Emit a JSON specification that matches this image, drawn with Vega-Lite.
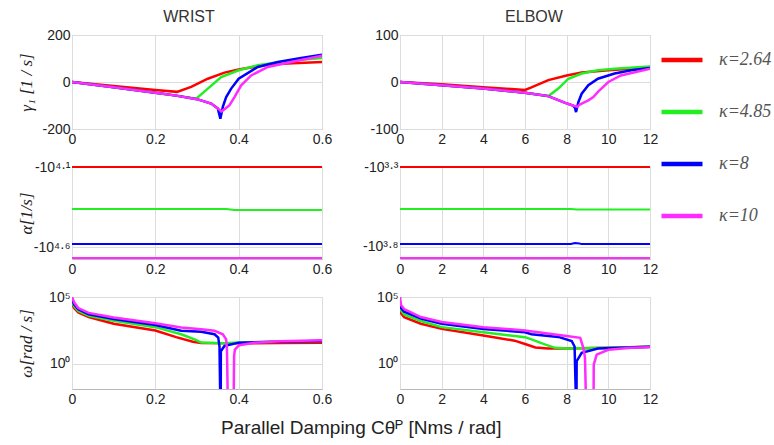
{
  "$schema": "https://vega.github.io/schema/vega-lite/v6.json",
  "padding": {"left": 16, "top": 8, "right": 5, "bottom": 5},
  "background": "white",
  "config": {
    "font": "Liberation Sans",
    "view": {"stroke": "#b8b8b8", "strokeWidth": 1},
    "axis": {"labelFont": "Liberation Sans", "labelFontSize": 14, "labelColor": "#222", "grid": true, "gridColor": "#dcdcdc", "domain": false, "ticks": false, "labelPadding": 2, "labelFlush": false, "titleFont": "Liberation Serif", "titleFontStyle": "italic", "titleFontWeight": "normal", "titleFontSize": 17, "titleColor": "#222"},
    "axisX": {"labelPadding": 3},
    "axisY": {"titleX": -46, "titleBaseline": "middle"},
    "title": {"font": "Liberation Sans", "fontSize": 16, "fontWeight": "normal", "color": "#333", "offset": 3},
    "legend": {"orient": "none", "legendX": 587, "legendY": 2, "symbolType": "stroke", "symbolStrokeWidth": 4.5, "symbolSize": 1681, "labelFont": "Liberation Serif", "labelFontStyle": "italic", "labelFontSize": 18, "labelColor": "#555", "rowPadding": 20, "labelOffset": 14, "padding": 0, "title": null}
  },
  "title": {"text": "Parallel Damping Cθᴾ [Nms / rad]", "orient": "bottom", "anchor": "middle", "fontSize": 19, "color": "#222", "offset": 12, "dx": -33},
  "datasets": {
    "gw": [
      {"k":"κ=2.64","x":0,"y":0},{"k":"κ=2.64","x":0.1,"y":-17},{"k":"κ=2.64","x":0.2,"y":-34},{"k":"κ=2.64","x":0.252,"y":-42},{"k":"κ=2.64","x":0.286,"y":-21},{"k":"κ=2.64","x":0.326,"y":14},{"k":"κ=2.64","x":0.366,"y":40},{"k":"κ=2.64","x":0.4,"y":53},{"k":"κ=2.64","x":0.47,"y":74},{"k":"κ=2.64","x":0.53,"y":80},{"k":"κ=2.64","x":0.6,"y":85},
      {"k":"κ=4.85","x":0,"y":0},{"k":"κ=4.85","x":0.1,"y":-22},{"k":"κ=4.85","x":0.2,"y":-46},{"k":"κ=4.85","x":0.25,"y":-58},{"k":"κ=4.85","x":0.298,"y":-71},{"k":"κ=4.85","x":0.326,"y":-28},{"k":"κ=4.85","x":0.358,"y":21},{"k":"κ=4.85","x":0.4,"y":50},{"k":"κ=4.85","x":0.446,"y":71},{"k":"κ=4.85","x":0.526,"y":92},{"k":"κ=4.85","x":0.6,"y":102},
      {"k":"κ=8","x":0,"y":0},{"k":"κ=8","x":0.1,"y":-22},{"k":"κ=8","x":0.2,"y":-46},{"k":"κ=8","x":0.25,"y":-58},{"k":"κ=8","x":0.3,"y":-73},{"k":"κ=8","x":0.334,"y":-92},{"k":"κ=8","x":0.35,"y":-113},{"k":"κ=8","x":0.356,"y":-156},{"k":"κ=8","x":0.362,"y":-106},{"k":"κ=8","x":0.37,"y":-64},{"k":"κ=8","x":0.382,"y":-28},{"k":"κ=8","x":0.4,"y":14},{"k":"κ=8","x":0.446,"y":64},{"k":"κ=8","x":0.494,"y":85},{"k":"κ=8","x":0.55,"y":102},{"k":"κ=8","x":0.6,"y":116},
      {"k":"κ=10","x":0,"y":0},{"k":"κ=10","x":0.1,"y":-22},{"k":"κ=10","x":0.2,"y":-46},{"k":"κ=10","x":0.25,"y":-58},{"k":"κ=10","x":0.3,"y":-73},{"k":"κ=10","x":0.334,"y":-92},{"k":"κ=10","x":0.35,"y":-113},{"k":"κ=10","x":0.359,"y":-125},{"k":"κ=10","x":0.366,"y":-116},{"k":"κ=10","x":0.378,"y":-99},{"k":"κ=10","x":0.39,"y":-64},{"k":"κ=10","x":0.406,"y":-14},{"k":"κ=10","x":0.43,"y":28},{"k":"κ=10","x":0.47,"y":64},{"k":"κ=10","x":0.526,"y":85},{"k":"κ=10","x":0.6,"y":112}
    ],
    "ge": [
      {"k":"κ=2.64","x":0,"y":0},{"k":"κ=2.64","x":2,"y":-5},{"k":"κ=2.64","x":4,"y":-11},{"k":"κ=2.64","x":6,"y":-17},{"k":"κ=2.64","x":6.28,"y":-12},{"k":"κ=2.64","x":7.12,"y":4},{"k":"κ=2.64","x":8,"y":14},{"k":"κ=2.64","x":8.72,"y":20},{"k":"κ=2.64","x":10,"y":25},{"k":"κ=2.64","x":12,"y":31},
      {"k":"κ=4.85","x":0,"y":0},{"k":"κ=4.85","x":2,"y":-7},{"k":"κ=4.85","x":4,"y":-14},{"k":"κ=4.85","x":6,"y":-23},{"k":"κ=4.85","x":7.12,"y":-30},{"k":"κ=4.85","x":7.6,"y":-14},{"k":"κ=4.85","x":8.08,"y":7},{"k":"κ=4.85","x":8.72,"y":18},{"k":"κ=4.85","x":9.5,"y":25},{"k":"κ=4.85","x":10.3,"y":28},{"k":"κ=4.85","x":12,"y":33},
      {"k":"κ=8","x":0,"y":0},{"k":"κ=8","x":2,"y":-7},{"k":"κ=8","x":4,"y":-14},{"k":"κ=8","x":6,"y":-23},{"k":"κ=8","x":7.12,"y":-30},{"k":"κ=8","x":7.9,"y":-44},{"k":"κ=8","x":8.3,"y":-50},{"k":"κ=8","x":8.4,"y":-55},{"k":"κ=8","x":8.45,"y":-64},{"k":"κ=8","x":8.56,"y":-43},{"k":"κ=8","x":8.72,"y":-25},{"k":"κ=8","x":9.04,"y":-7},{"k":"κ=8","x":9.5,"y":7},{"k":"κ=8","x":10.3,"y":18},{"k":"κ=8","x":11.1,"y":25},{"k":"κ=8","x":12,"y":30},
      {"k":"κ=10","x":0,"y":0},{"k":"κ=10","x":2,"y":-7},{"k":"κ=10","x":4,"y":-14},{"k":"κ=10","x":6,"y":-23},{"k":"κ=10","x":7.12,"y":-30},{"k":"κ=10","x":7.9,"y":-44},{"k":"κ=10","x":8.3,"y":-50},{"k":"κ=10","x":8.52,"y":-53},{"k":"κ=10","x":8.6,"y":-49},{"k":"κ=10","x":8.72,"y":-46},{"k":"κ=10","x":9.04,"y":-39},{"k":"κ=10","x":9.28,"y":-32},{"k":"κ=10","x":9.5,"y":-21},{"k":"κ=10","x":10,"y":0},{"k":"κ=10","x":10.6,"y":14},{"k":"κ=10","x":12,"y":28}
    ],
    "aw": [
      {"k":"κ=2.64","x":0,"y":-12589.25},{"k":"κ=2.64","x":0.6,"y":-12589.25},
      {"k":"κ=4.85","x":0,"y":-23040},{"k":"κ=4.85","x":0.37,"y":-23040},{"k":"κ=4.85","x":0.39,"y":-23400},{"k":"κ=4.85","x":0.6,"y":-23400},
      {"k":"κ=8","x":0,"y":-38106},{"k":"κ=8","x":0.6,"y":-38106},
      {"k":"κ=10","x":0,"y":-46660},{"k":"κ=10","x":0.6,"y":-46660}
    ],
    "ae": [
      {"k":"κ=2.64","x":0,"y":-1995.26},{"k":"κ=2.64","x":12,"y":-1995.26},
      {"k":"κ=4.85","x":0,"y":-3652},{"k":"κ=4.85","x":8.2,"y":-3652},{"k":"κ=4.85","x":8.5,"y":-3680},{"k":"κ=4.85","x":12,"y":-3680},
      {"k":"κ=8","x":0,"y":-6040},{"k":"κ=8","x":8.2,"y":-6040},{"k":"κ=8","x":8.4,"y":-5950},{"k":"κ=8","x":8.6,"y":-5990},{"k":"κ=8","x":8.7,"y":-6040},{"k":"κ=8","x":12,"y":-6040},
      {"k":"κ=10","x":0,"y":-7396},{"k":"κ=10","x":12,"y":-7396}
    ],
    "ow": [
      {"k":"κ=2.64","x":0,"y":33000},{"k":"κ=2.64","x":0.005,"y":15000},{"k":"κ=2.64","x":0.015,"y":7000},{"k":"κ=2.64","x":0.04,"y":3200},{"k":"κ=2.64","x":0.1,"y":1000},{"k":"κ=2.64","x":0.2,"y":316},{"k":"κ=2.64","x":0.25,"y":100},{"k":"κ=2.64","x":0.29,"y":45},{"k":"κ=2.64","x":0.31,"y":37},{"k":"κ=2.64","x":0.4,"y":35},{"k":"κ=2.64","x":0.5,"y":37},{"k":"κ=2.64","x":0.6,"y":39},
      {"k":"κ=4.85","x":0,"y":45000},{"k":"κ=4.85","x":0.005,"y":20000},{"k":"κ=4.85","x":0.015,"y":9000},{"k":"κ=4.85","x":0.04,"y":4000},{"k":"κ=4.85","x":0.1,"y":1700},{"k":"κ=4.85","x":0.2,"y":560},{"k":"κ=4.85","x":0.262,"y":166},{"k":"κ=4.85","x":0.294,"y":69},{"k":"κ=4.85","x":0.31,"y":40},{"k":"κ=4.85","x":0.366,"y":35},{"k":"κ=4.85","x":0.4,"y":40},{"k":"κ=4.85","x":0.5,"y":46},{"k":"κ=4.85","x":0.6,"y":52},
      {"k":"κ=8","x":0,"y":63000},{"k":"κ=8","x":0.005,"y":28000},{"k":"κ=8","x":0.015,"y":12000},{"k":"κ=8","x":0.04,"y":5000},{"k":"κ=8","x":0.1,"y":2300},{"k":"κ=8","x":0.2,"y":800},{"k":"κ=8","x":0.262,"y":302},{"k":"κ=8","x":0.31,"y":251},{"k":"κ=8","x":0.342,"y":166},{"k":"κ=8","x":0.351,"y":93},{"k":"κ=8","x":0.354,"y":20},{"k":"κ=8","x":0.356,"y":0.001},{"k":"κ=8","x":0.357,"y":0.001},{"k":"κ=8","x":0.3572,"y":9},{"k":"κ=8","x":0.366,"y":22},{"k":"κ=8","x":0.4,"y":39},{"k":"κ=8","x":0.46,"y":44},{"k":"κ=8","x":0.6,"y":52},
      {"k":"κ=10","x":0,"y":100000},{"k":"κ=10","x":0.005,"y":40000},{"k":"κ=10","x":0.015,"y":15000},{"k":"κ=10","x":0.04,"y":6500},{"k":"κ=10","x":0.1,"y":3000},{"k":"κ=10","x":0.2,"y":1100},{"k":"κ=10","x":0.262,"y":537},{"k":"κ=10","x":0.31,"y":398},{"k":"κ=10","x":0.342,"y":302},{"k":"κ=10","x":0.362,"y":166},{"k":"κ=10","x":0.37,"y":69},{"k":"κ=10","x":0.372,"y":10},{"k":"κ=10","x":0.374,"y":0.001},{"k":"κ=10","x":0.388,"y":0.001},{"k":"κ=10","x":0.389,"y":3.9},{"k":"κ=10","x":0.391,"y":12},{"k":"κ=10","x":0.401,"y":25},{"k":"κ=10","x":0.4375,"y":39},{"k":"κ=10","x":0.5,"y":50},{"k":"κ=10","x":0.6,"y":59}
    ],
    "oe": [
      {"k":"κ=2.64","x":0,"y":12000},{"k":"κ=2.64","x":0.05,"y":6000},{"k":"κ=2.64","x":0.2,"y":3162},{"k":"κ=2.64","x":1,"y":1000},{"k":"κ=2.64","x":2,"y":417},{"k":"κ=2.64","x":4,"y":132},{"k":"κ=2.64","x":5.5,"y":55},{"k":"κ=2.64","x":6,"y":31},{"k":"κ=2.64","x":6.5,"y":17},{"k":"κ=2.64","x":7.1,"y":14},{"k":"κ=2.64","x":8,"y":14},{"k":"κ=2.64","x":10,"y":16},{"k":"κ=2.64","x":12,"y":19},
      {"k":"κ=4.85","x":0,"y":20000},{"k":"κ=4.85","x":0.05,"y":10000},{"k":"κ=4.85","x":0.2,"y":5000},{"k":"κ=4.85","x":1,"y":1600},{"k":"κ=4.85","x":2,"y":562},{"k":"κ=4.85","x":4,"y":234},{"k":"κ=4.85","x":6,"y":100},{"k":"κ=4.85","x":6.31,"y":69},{"k":"κ=4.85","x":6.95,"y":29},{"k":"κ=4.85","x":7.44,"y":16},{"k":"κ=4.85","x":8,"y":14},{"k":"κ=4.85","x":10,"y":16},{"k":"κ=4.85","x":12,"y":19},
      {"k":"κ=8","x":0,"y":32000},{"k":"κ=8","x":0.05,"y":15000},{"k":"κ=8","x":0.2,"y":8000},{"k":"κ=8","x":1,"y":2500},{"k":"κ=8","x":2,"y":1000},{"k":"κ=8","x":4,"y":400},{"k":"κ=8","x":6,"y":234},{"k":"κ=8","x":6.31,"y":166},{"k":"κ=8","x":7.6,"y":105},{"k":"κ=8","x":8.24,"y":52},{"k":"κ=8","x":8.38,"y":20},{"k":"κ=8","x":8.45,"y":0.001},{"k":"κ=8","x":8.47,"y":0.001},{"k":"κ=8","x":8.48,"y":1.6},{"k":"κ=8","x":8.72,"y":6.8},{"k":"κ=8","x":9.5,"y":14},{"k":"κ=8","x":10.6,"y":16},{"k":"κ=8","x":12,"y":19},
      {"k":"κ=10","x":0,"y":100000},{"k":"κ=10","x":0.05,"y":25000},{"k":"κ=10","x":0.2,"y":12600},{"k":"κ=10","x":1,"y":3162},{"k":"κ=10","x":2,"y":1350},{"k":"κ=10","x":4,"y":562},{"k":"κ=10","x":6,"y":316},{"k":"κ=10","x":7.9,"y":126},{"k":"κ=10","x":8.65,"y":89},{"k":"κ=10","x":8.8,"y":16},{"k":"κ=10","x":8.88,"y":3},{"k":"κ=10","x":8.93,"y":0.001},{"k":"κ=10","x":9.29,"y":0.001},{"k":"κ=10","x":9.3,"y":0.9},{"k":"κ=10","x":9.44,"y":5},{"k":"κ=10","x":10,"y":11.5},{"k":"κ=10","x":11.1,"y":16},{"k":"κ=10","x":12,"y":18}
    ]
  },
  "columns": 2,
  "spacing": {"row": 38, "column": 78},
  "bounds": "flush",
  "concat": [
    {
      "width": 250, "height": 94, "title": {"text": "WRIST", "dx": -8},
      "data": {"name": "gw"},
      "mark": {"type": "line", "strokeWidth": 2.5, "clip": true},
      "encoding": {
        "x": {"field": "x", "type": "quantitative", "scale": {"domain": [0, 0.6], "nice": false}, "axis": {"values": [0, 0.2, 0.4, 0.6], "format": "~g", "title": null}},
        "y": {"field": "y", "type": "quantitative", "scale": {"domain": [-200, 200], "nice": false}, "axis": {"values": [-200, 0, 200], "title": "γ₁ [1 / s]", "labelExpr": "replace(datum.label, '−', '-')"}},
        "color": {"field": "k", "type": "nominal", "sort": null, "scale": {"domain": ["κ=2.64", "κ=4.85", "κ=8", "κ=10"], "range": ["#ff0000", "#22ee22", "#0000ff", "#ff2bff"]}}
      }
    },
    {
      "width": 250, "height": 94, "title": {"text": "ELBOW", "dx": 9},
      "data": {"name": "ge"},
      "mark": {"type": "line", "strokeWidth": 2.5, "clip": true},
      "encoding": {
        "x": {"field": "x", "type": "quantitative", "scale": {"domain": [0, 12], "nice": false}, "axis": {"values": [0, 2, 4, 6, 8, 10, 12], "title": null}},
        "y": {"field": "y", "type": "quantitative", "scale": {"domain": [-100, 100], "nice": false}, "axis": {"values": [-100, 0, 100], "title": null, "labelExpr": "replace(datum.label, '−', '-')"}},
        "color": {"field": "k", "type": "nominal", "sort": null}
      }
    },
    {
      "width": 250, "height": 92,
      "data": {"name": "aw"},
      "mark": {"type": "line", "strokeWidth": 2},
      "encoding": {
        "x": {"field": "x", "type": "quantitative", "scale": {"domain": [0, 0.6], "nice": false}, "axis": {"values": [0, 0.2, 0.4, 0.6], "format": "~g", "title": null}},
        "y": {"field": "y", "type": "quantitative", "scale": {"type": "log", "domain": [-47315, -12589.25], "nice": false}, "axis": {"values": [-12589.25, -39810.72], "title": "α[1/s]", "labelExpr": "datum.value > -20000 ? '-10⁴·¹' : '-10⁴·⁶'"}},
        "color": {"field": "k", "type": "nominal", "sort": null}
      }
    },
    {
      "width": 250, "height": 92,
      "data": {"name": "ae"},
      "mark": {"type": "line", "strokeWidth": 2},
      "encoding": {
        "x": {"field": "x", "type": "quantitative", "scale": {"domain": [0, 12], "nice": false}, "axis": {"values": [0, 2, 4, 6, 8, 10, 12], "title": null}},
        "y": {"field": "y", "type": "quantitative", "scale": {"type": "log", "domain": [-7499, -1995.26], "nice": false}, "axis": {"values": [-1995.26, -6309.57], "title": null, "labelExpr": "datum.value > -4000 ? '-10³·³' : '-10³·⁸'"}},
        "color": {"field": "k", "type": "nominal", "sort": null}
      }
    },
    {
      "width": 250, "height": 92,
      "data": {"name": "ow"},
      "mark": {"type": "line", "strokeWidth": 2.5, "clip": true},
      "encoding": {
        "x": {"field": "x", "type": "quantitative", "scale": {"domain": [0, 0.6], "nice": false}, "axis": {"values": [0, 0.2, 0.4, 0.6], "format": "~g", "title": null}},
        "y": {"field": "y", "type": "quantitative", "scale": {"type": "log", "domain": [0.0135, 100000], "nice": false}, "axis": {"values": [1, 100000], "title": "ω[rad / s]", "labelExpr": "datum.value < 10 ? '10⁰' : '10⁵'"}},
        "color": {"field": "k", "type": "nominal", "sort": null}
      }
    },
    {
      "width": 250, "height": 92,
      "data": {"name": "oe"},
      "mark": {"type": "line", "strokeWidth": 2.5, "clip": true},
      "encoding": {
        "x": {"field": "x", "type": "quantitative", "scale": {"domain": [0, 12], "nice": false}, "axis": {"values": [0, 2, 4, 6, 8, 10, 12], "title": null}},
        "y": {"field": "y", "type": "quantitative", "scale": {"type": "log", "domain": [0.0135, 100000], "nice": false}, "axis": {"values": [1, 100000], "title": null, "labelExpr": "datum.value < 10 ? '10⁰' : '10⁵'"}},
        "color": {"field": "k", "type": "nominal", "sort": null}
      }
    }
  ]
}
